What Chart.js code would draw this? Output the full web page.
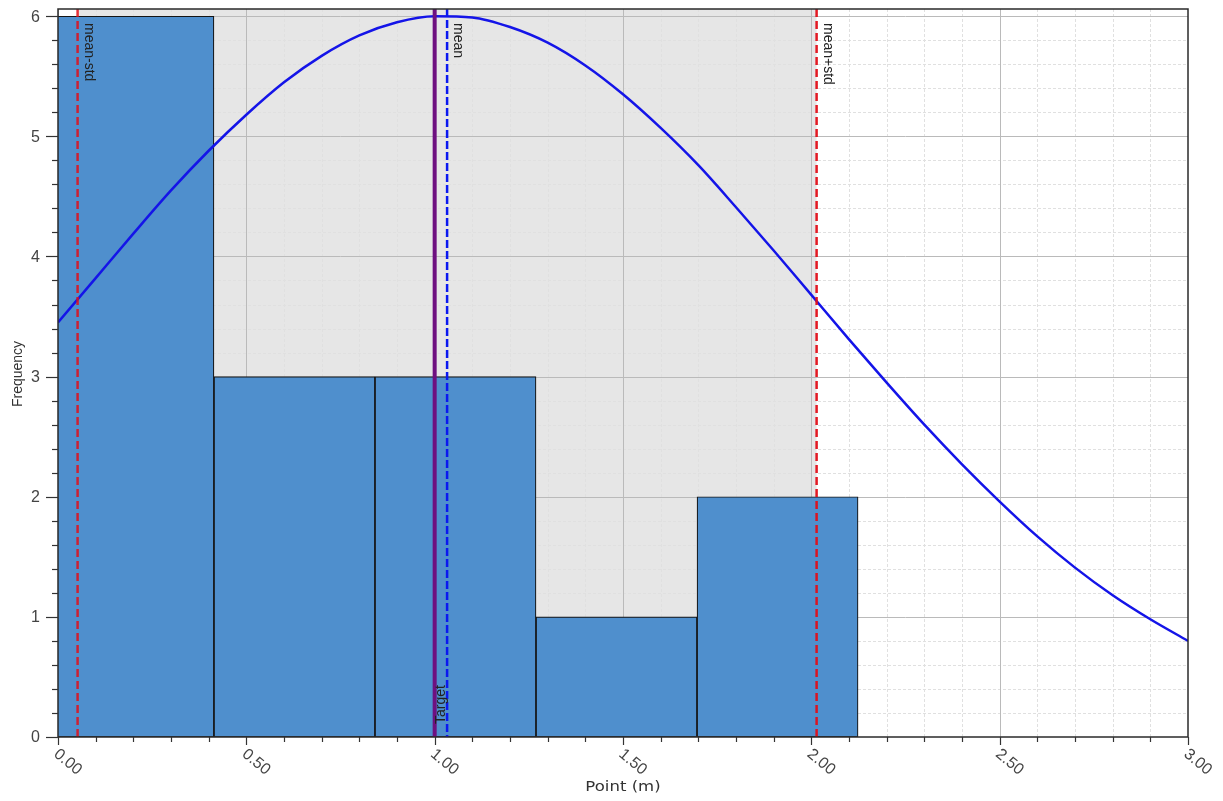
<!DOCTYPE html>
<html><head><meta charset="utf-8">
<script src="https://cdn.jsdelivr.net/npm/chart.js@4/dist/chart.umd.min.js"></script>
<style>html,body{margin:0;padding:0;background:#fff;overflow:hidden}#wrap{width:1223px;height:801px}</style>
</head><body><div id="wrap"><canvas id="c" width="1223" height="801"></canvas></div>
<script>
// ---- data ----
const binCenters = [0.2003, 0.6278, 1.0553, 1.4828, 1.9103];
const binCounts = [6, 3, 3, 1, 2];
const curveX = [0.0,0.1,0.2,0.3,0.4,0.5,0.6,0.7,0.8,0.9,1.0,1.1,1.2,1.3,1.4,1.5,1.6,1.7,1.8,1.9,2.0,2.1,2.2,2.3,2.4,2.5,2.6,2.7,2.8,2.9,3.0];
const curveY = [3.45,3.82,4.19,4.55,4.88,5.18,5.45,5.67,5.84,5.95,6.00,5.99,5.91,5.78,5.59,5.35,5.07,4.76,4.41,4.05,3.68,3.31,2.95,2.60,2.27,1.96,1.67,1.41,1.18,0.98,0.80];
const meanValue = 1.033;
const stdValue = 0.981;
const targetValue = 1.0;
const xTickValues = [0, 0.5, 1, 1.5, 2, 2.5, 3];
const xTickLabels = ['0.00', '0.50', '1.00', '1.50', '2.00', '2.50', '3.00'];
const yTickValues = [0, 1, 2, 3, 4, 5, 6];
const yTickLabels = ['0', '1', '2', '3', '4', '5', '6'];
const xTitle = 'Point (m)';
const yTitle = 'Frequency';

const FONT = '"Liberation Sans", Arial, sans-serif';

const decor = {
  id: 'decor',
  beforeDatasetsDraw(chart) {
    const {ctx, chartArea: a, scales: {x, y}} = chart;
    ctx.save();
    ctx.beginPath(); ctx.rect(a.left, a.top, a.right - a.left, a.bottom - a.top); ctx.clip();
    // std band
    const b1 = x.getPixelForValue(meanValue - stdValue), b2 = x.getPixelForValue(meanValue + stdValue);
    ctx.fillStyle = '#e6e6e6';
    ctx.fillRect(b1, a.top, b2 - b1, a.bottom - a.top);
    // minor grid
    ctx.strokeStyle = '#e0e0e0'; ctx.lineWidth = 1; ctx.setLineDash([3, 2]);
    for (let i = 1; i < 30; i++) {
      if (i % 5 === 0) continue;
      const px = Math.round(x.getPixelForValue(i / 10)) + 0.5;
      ctx.beginPath(); ctx.moveTo(px, a.top); ctx.lineTo(px, a.bottom); ctx.stroke();
    }
    for (let i = 1; i < 31; i++) {
      if (i % 5 === 0) continue;
      const py = Math.round(y.getPixelForValue(i / 5)) + 0.5;
      ctx.beginPath(); ctx.moveTo(a.left, py); ctx.lineTo(a.right, py); ctx.stroke();
    }
    // major grid
    ctx.setLineDash([]); ctx.strokeStyle = '#bababa';
    xTickValues.forEach(v => {
      const px = Math.round(x.getPixelForValue(v)) + 0.5;
      ctx.beginPath(); ctx.moveTo(px, a.top); ctx.lineTo(px, a.bottom); ctx.stroke();
    });
    yTickValues.forEach(v => {
      const py = Math.round(y.getPixelForValue(v)) + 0.5;
      ctx.beginPath(); ctx.moveTo(a.left, py); ctx.lineTo(a.right, py); ctx.stroke();
    });
    ctx.restore();
  },
  afterDatasetsDraw(chart) {
    const {ctx, chartArea: a, scales: {x, y}} = chart;
    ctx.save();
    // vertical reference lines
    const vline = (v, color, w, dash) => {
      const px = x.getPixelForValue(v);
      ctx.strokeStyle = color; ctx.lineWidth = w; ctx.setLineDash(dash);
      ctx.beginPath(); ctx.moveTo(px, a.top); ctx.lineTo(px, a.bottom); ctx.stroke();
      return px;
    };
    const pMinus = vline(meanValue - stdValue, 'rgba(226,14,24,0.85)', 2.5, [8, 4]);
    const pPlus = vline(meanValue + stdValue, 'rgba(226,14,24,0.95)', 2.5, [8, 4]);
    const pTarget = vline(targetValue, '#6e1080', 4, []);
    const pMean = vline(meanValue, '#0a18f0', 2.5, [8, 3]);
    ctx.setLineDash([]);
    // labels on lines
    ctx.fillStyle = '#222';
    ctx.font = '14px ' + FONT;
    ctx.textAlign = 'left'; ctx.textBaseline = 'alphabetic';
    const vlabel = (txt, px) => {
      ctx.save(); ctx.translate(px + 7, a.top + 14); ctx.rotate(Math.PI / 2);
      ctx.fillText(txt, 0, 0); ctx.restore();
    };
    vlabel('mean-std', pMinus);
    vlabel('mean', pMean);
    vlabel('mean+std', pPlus);
    ctx.save(); ctx.translate(pTarget + 10, a.bottom - 13); ctx.rotate(-Math.PI / 2);
    ctx.fillText('Target', 0, 0); ctx.restore();
    // plot border
    ctx.strokeStyle = '#2a2a2a'; ctx.lineWidth = 1.5;
    ctx.strokeRect(a.left, a.top, a.right - a.left, a.bottom - a.top);
    // ticks
    ctx.strokeStyle = '#333'; ctx.lineWidth = 1.2;
    for (let i = 0; i <= 30; i++) {
      const px = Math.round(x.getPixelForValue(i / 10)) + 0.5;
      const len = (i % 5 === 0) ? 8 : 5;
      ctx.beginPath(); ctx.moveTo(px, a.bottom); ctx.lineTo(px, a.bottom + len); ctx.stroke();
    }
    for (let i = 0; i <= 30; i++) {
      const py = Math.round(y.getPixelForValue(i / 5)) + 0.5;
      const len = (i % 5 === 0) ? 12 : 6;
      ctx.beginPath(); ctx.moveTo(a.left, py); ctx.lineTo(a.left - len, py); ctx.stroke();
    }
    // tick labels
    ctx.fillStyle = '#444';
    ctx.font = '16px ' + FONT;
    xTickValues.forEach((v, i) => {
      const px = x.getPixelForValue(v);
      ctx.save(); ctx.translate(px + 3, a.bottom + 9); ctx.rotate(40 * Math.PI / 180);
      ctx.textAlign = 'left'; ctx.textBaseline = 'top';
      ctx.fillText(xTickLabels[i], 0, 0); ctx.restore();
    });
    ctx.textAlign = 'right'; ctx.textBaseline = 'middle';
    yTickValues.forEach((v, i) => {
      ctx.fillText(yTickLabels[i], 40, y.getPixelForValue(v) + 1);
    });
    // axis titles
    ctx.fillStyle = '#333';
    ctx.font = '14px "DejaVu Sans", sans-serif';
    ctx.save(); ctx.translate((a.left + a.right) / 2, 787); ctx.scale(1.18, 1);
    ctx.textAlign = 'center'; ctx.textBaseline = 'middle';
    ctx.fillText(xTitle, 0, 0); ctx.restore();
    ctx.font = '14px ' + FONT;
    ctx.save(); ctx.translate(18, (a.top + a.bottom) / 2 + 1); ctx.rotate(-Math.PI / 2);
    ctx.textAlign = 'center'; ctx.textBaseline = 'middle';
    ctx.fillText(yTitle, 0, 0); ctx.restore();
    ctx.restore();
  }
};

new Chart(document.getElementById('c'), {
  type: 'bar',
  data: {
    datasets: [
      {
        type: 'line',
        data: curveX.map((v, i) => ({x: v, y: curveY[i]})),
        borderColor: '#1414e8',
        borderWidth: 2.5,
        pointRadius: 0,
        tension: 0.4,
        cubicInterpolationMode: 'monotone',
        fill: false,
        order: 0
      },
      {
        type: 'bar',
        data: binCenters.map((v, i) => ({x: v, y: binCounts[i]})),
        backgroundColor: '#4f8fcd',
        borderColor: '#151515',
        borderWidth: 1.2,
        borderSkipped: false,
        barPercentage: 1,
        categoryPercentage: 1,
        order: 1
      }
    ]
  },
  options: {
    responsive: false,
    animation: false,
    devicePixelRatio: 1,
    layout: {padding: {top: 9, right: 35, left: 0, bottom: 0}},
    plugins: {legend: {display: false}, tooltip: {enabled: false}},
    scales: {
      x: {
        type: 'linear', min: 0, max: 3, offset: false,
        ticks: {display: false, stepSize: 0.5},
        grid: {display: false, offset: false}, border: {display: false},
        afterFit: s => { s.height = 64; }
      },
      y: {
        type: 'linear', min: 0, max: 6.06,
        ticks: {display: false, stepSize: 1},
        grid: {display: false}, border: {display: false},
        afterFit: s => { s.width = 58; }
      }
    }
  },
  plugins: [decor]
});
</script>
</body></html>
